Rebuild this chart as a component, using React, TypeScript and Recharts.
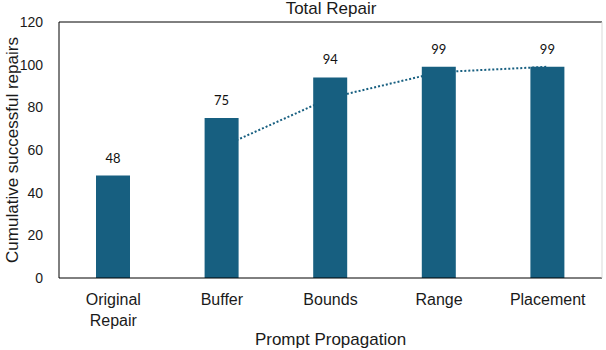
import React from "react";
import {
  Bar,
  ComposedChart,
  LabelList,
  Line,
  ReferenceLine,
  XAxis,
  YAxis,
} from "recharts";

const categories = ["Original\nRepair", "Buffer", "Bounds", "Range", "Placement"];
const repairs = [48, 75, 94, 99, 99];
// 2-period moving average trendline
const trend = [null, 61.5, 84.5, 96.5, 99];
const yTicks = [0, 20, 40, 60, 80, 100, 120];

const data = categories.map((name, i) => ({
  name,
  repairs: repairs[i],
  trend: trend[i],
}));

const BAR = "#175f80";
const FONT = "'Liberation Sans', Arial, sans-serif";

function CategoryTick(props: any) {
  const { x, y, payload } = props;
  const lines = String(payload.value).split("\n");
  return (
    <text
      x={x}
      y={y + 19}
      textAnchor="middle"
      fontSize={16}
      fontFamily={FONT}
      fill="#1a1a1a"
    >
      {lines.map((l, i) => (
        <tspan key={i} x={x} dy={i === 0 ? 0 : 21}>
          {l}
        </tspan>
      ))}
    </text>
  );
}

function YTitle(props: any) {
  const vb = props.viewBox;
  const cy = vb.y + vb.height / 2;
  return (
    <text
      x={12}
      y={cy}
      transform={`rotate(-90, 12, ${cy})`}
      textAnchor="middle"
      dominantBaseline="central"
      fontSize={17}
      fontFamily={FONT}
      fill="#1a1a1a"
    >
      Cumulative successful repairs
    </text>
  );
}

export default function App() {
  return (
    <div style={{ position: "absolute", left: 0, top: 0, width: 606, height: 350, background: "#fff" }}>
      <div
        style={{
          position: "absolute",
          left: 58,
          width: 546,
          top: 0,
          lineHeight: "17px",
          textAlign: "center",
          fontFamily: FONT,
          fontSize: 17,
          color: "#1a1a1a",
        }}
      >
        Total Repair
      </div>
      <ComposedChart
        width={606}
        height={350}
        data={data}
        margin={{ top: 22, right: 2, left: 2, bottom: 0 }}
      >
        <XAxis
          dataKey="name"
          height={72}
          axisLine={{ stroke: "#000" }}
          tickLine={false}
          tick={<CategoryTick />}
          interval={0}
          label={{
            value: "Prompt Propagation",
            position: "insideBottom",
            offset: 5,
            fontSize: 17,
            fontFamily: FONT,
            fill: "#1a1a1a",
          }}
        />
        <YAxis
          width={57}
          domain={[0, 120]}
          ticks={yTicks}
          axisLine={{ stroke: "#000" }}
          tickLine={false}
          tickMargin={10}
          tick={{ fontSize: 14, fontFamily: FONT, fill: "#1a1a1a" }}
          label={<YTitle />}
        />
        <YAxis
          yAxisId="right"
          orientation="right"
          width={2}
          axisLine={{ stroke: "#d9d9d9" }}
          tick={false}
          tickLine={false}
        />
        <ReferenceLine y={120} stroke="#000" />
        <Line
          dataKey="trend"
          type="linear"
          stroke={BAR}
          strokeWidth={2}
          strokeDasharray="2 2"
          dot={false}
          activeDot={false}
          connectNulls={false}
          zIndex={250}
          isAnimationActive={false}
        />
        <Bar dataKey="repairs" fill={BAR} barSize={34} isAnimationActive={false}>
          <LabelList
            dataKey="repairs"
            position="top"
            offset={13}
            fontSize={13}
            fontFamily="Lato, 'Open Sans', sans-serif"
            fill="#111"
          />
        </Bar>
      </ComposedChart>
    </div>
  );
}
